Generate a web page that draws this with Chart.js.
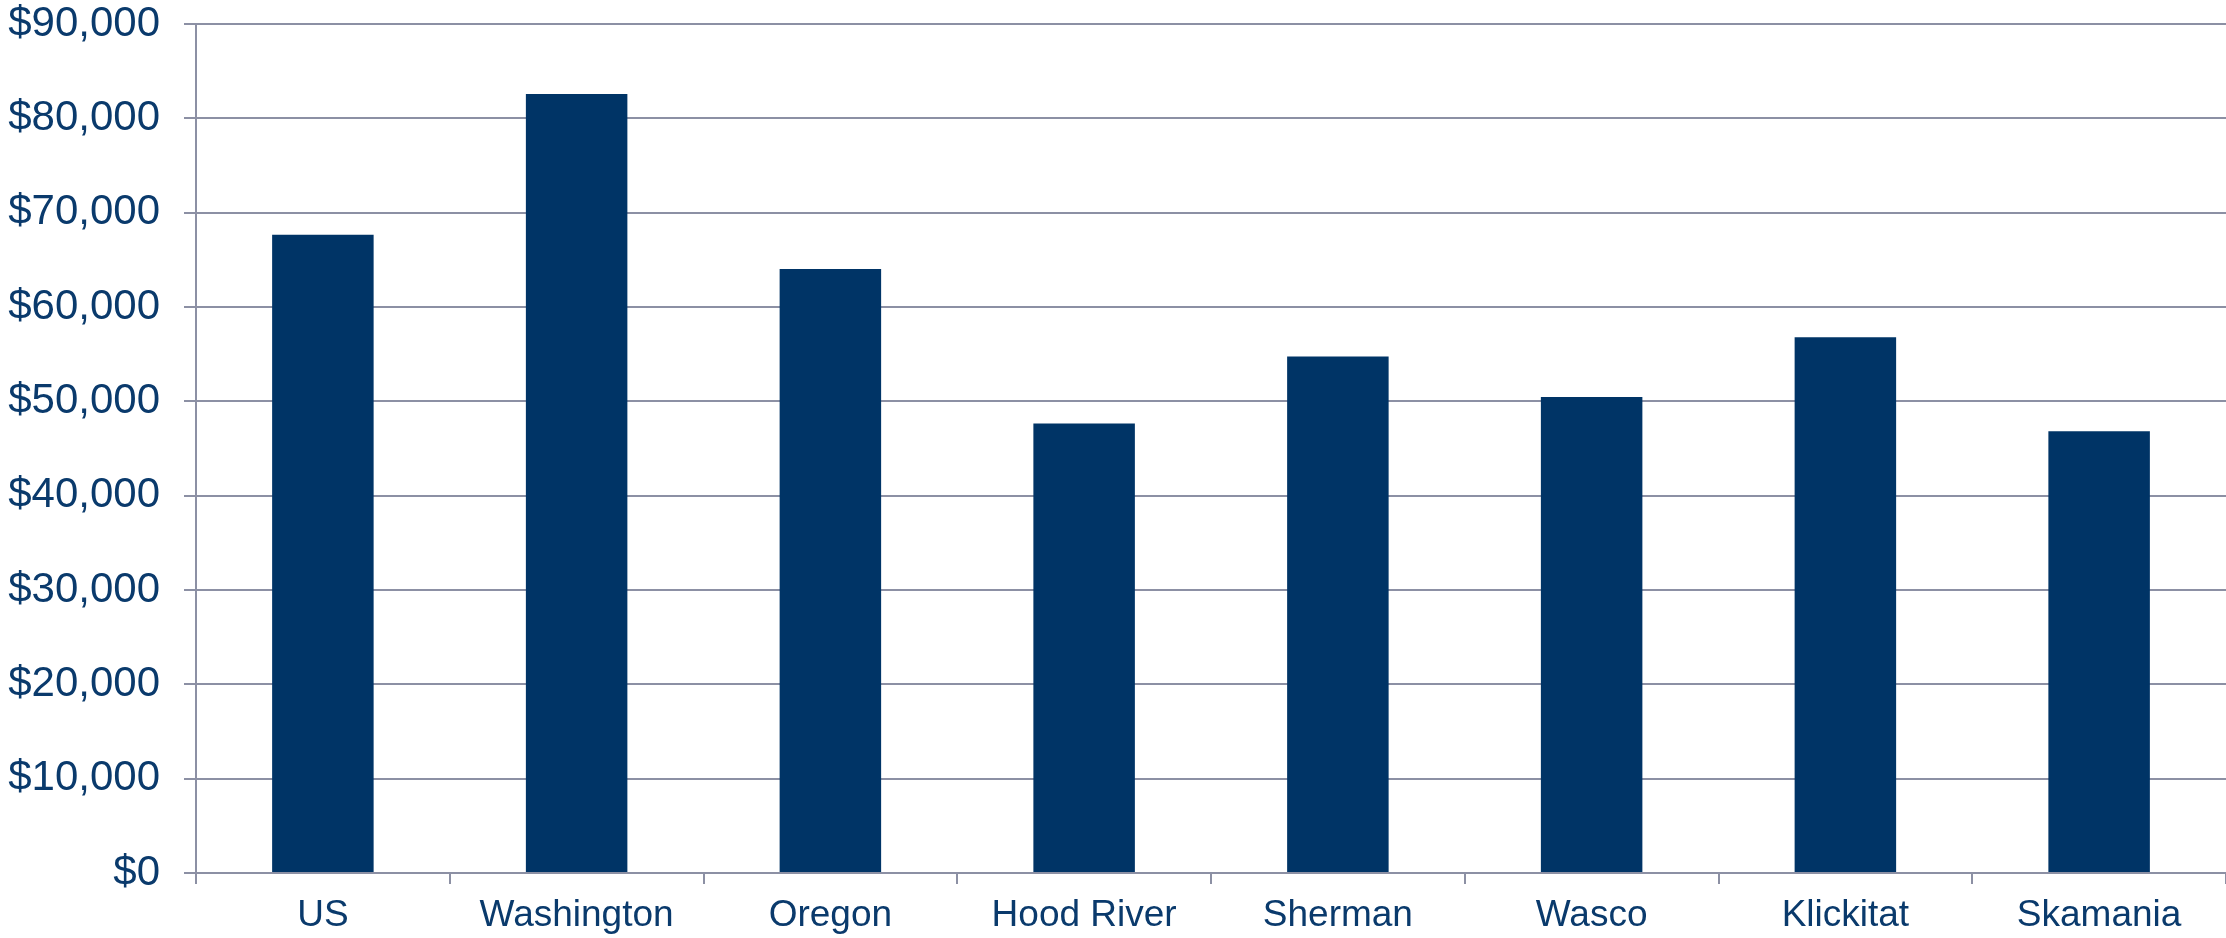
<!DOCTYPE html>
<html>
<head>
<meta charset="utf-8">
<script src="https://cdn.jsdelivr.net/npm/chart.js@4/dist/chart.umd.min.js"></script>
<style>
  html, body { margin: 0; padding: 0; background: #ffffff; }
</style>
</head>
<body>
<canvas id="grafico" width="2226" height="938"></canvas>
<script>
// Datos
const categorias = ["US", "Washington", "Oregon", "Hood River", "Sherman", "Wasco", "Klickitat", "Skamania"];
const ingresos = [67650, 82570, 64040, 47660, 54760, 50460, 56800, 46840];
const ticksY = [0, 10000, 20000, 30000, 40000, 50000, 60000, 70000, 80000, 90000];

const colorBarra = '#003466';
const colorTexto = '#0a3a6c';
const colorGrid = '#8c90a4';

const ctx = document.getElementById("grafico").getContext("2d");
const grafico = new Chart(ctx, {
    type: 'bar',
    data: {
        labels: categorias,
        datasets: [{
            data: ingresos,
            backgroundColor: colorBarra,
            borderWidth: 0,
            barPercentage: 0.4,
            categoryPercentage: 1.0
        }]
    },
    options: {
        responsive: false,
        animation: false,
        devicePixelRatio: 1,
        layout: { padding: 0 },
        plugins: {
            legend: { display: false },
            tooltip: { enabled: false }
        },
        scales: {
            x: {
                afterFit: function(scale) {
                    scale.height = 65;
                },
                grid: {
                    drawOnChartArea: false,
                    drawTicks: true,
                    offset: true,
                    tickLength: 11,
                    color: colorGrid,
                    lineWidth: 2
                },
                border: { color: colorGrid, width: 2 },
                ticks: {
                    color: colorTexto,
                    padding: 10,
                    font: { family: 'Liberation Sans, Arial, sans-serif', size: 37 }
                }
            },
            y: {
                min: 0,
                max: 90000,
                afterBuildTicks: function(scale) {
                    scale.ticks = ticksY.map(v => ({ value: v }));
                },
                afterFit: function(scale) {
                    scale.width = 196;
                    scale.paddingTop = 24;
                    scale.paddingBottom = 0;
                },
                grid: {
                    color: colorGrid,
                    lineWidth: 2,
                    tickLength: 12
                },
                border: { color: colorGrid, width: 2 },
                ticks: {
                    color: colorTexto,
                    padding: 24,
                    font: { family: 'Liberation Sans, Arial, sans-serif', size: 42 },
                    callback: function(valor) {
                        return '$' + valor.toLocaleString('en-US');
                    }
                }
            }
        }
    }
});
</script>
</body>
</html>
